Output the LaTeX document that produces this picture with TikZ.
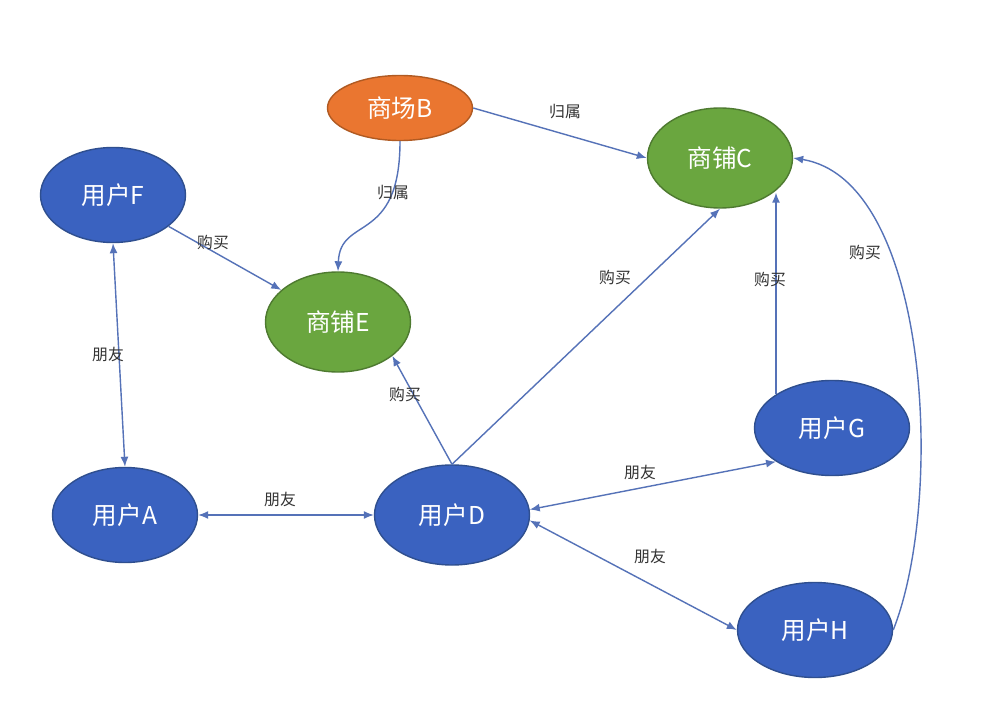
\documentclass[tikz,border=0pt]{standalone}
\usepackage{fontspec}
\setmainfont{Noto Sans CJK SC}
\usetikzlibrary{arrows.meta,shapes.geometric}

\definecolor{userblue}{HTML}{3A62C0}
\definecolor{userline}{HTML}{2F4F8F}
\definecolor{shopgreen}{HTML}{6AA63F}
\definecolor{shopline}{HTML}{4E7A30}
\definecolor{mallorange}{HTML}{EA7630}
\definecolor{mallline}{HTML}{B05A22}
\definecolor{edgeblue}{HTML}{5572B8}

\tikzset{
  ent/.style={ellipse, inner sep=0pt, line width=0.8pt, text=white,
    font=\fontsize{14}{16}\selectfont},
  user/.style={ent, draw=userline, fill=userblue,
    minimum width=2.9cm, minimum height=1.9cm},
  shop/.style={ent, draw=shopline, fill=shopgreen,
    minimum width=2.9cm, minimum height=2cm},
  mall/.style={ent, draw=mallline, fill=mallorange,
    minimum width=2.9cm, minimum height=1.3cm},
  rel/.style={draw=edgeblue, line width=0.8pt, -{Latex[length=2mm,width=1.6mm]}},
  mutual/.style={rel, {Latex[length=2mm,width=1.6mm]}-{Latex[length=2mm,width=1.6mm]}},
  lbl/.style={text=black!80, font=\fontsize{9}{10}\selectfont, inner sep=1pt}
}

\begin{document}
\begin{tikzpicture}[x=0.2mm, y=-0.2mm]
    \useasboundingbox[fill=white] (0,0) rectangle (1000,707);
    \node[mall] (B) at (400,108) {商场B};
    \node[shop] (C) at (720,158) {商铺C};
    \node[user, minimum height=1.9cm] (F) at (113,195) {用户F};
    \node[shop] (E) at (338,322) {商铺E};
    \node[user, minimum width=3.1cm] (G) at (832,428) {用户G};
    \node[user] (A) at (125,515) {用户A};
    \node[user, minimum width=3.1cm, minimum height=2cm] (D) at (452,515) {用户D};
    \node[user, minimum width=3.1cm] (H) at (815,630) {用户H};

    \draw[rel] (B.east) -- (C.west);
    \draw[rel] (B.south) .. controls (400,245) and (340,215) .. (E.north);
    \draw[rel] (F) -- (E);
    \draw[mutual] (F.south) -- (A.north);
    \draw[mutual] (A.east) -- (D.west);
    \draw[rel] (D.north) -- (E.-32);
    \draw[rel] (D.north) -- (C.south);
    \draw[rel] (G.149) -- (G.149 |- C.-33);
    \draw[mutual] (D.4) -- (G.211);
    \draw[mutual] (D.-4) -- (H.west);
    \draw[rel] (H.east) .. controls (945,500) and (930,180) .. (C.east);

    % labels
    \node[lbl] (lBC) at (565,112) {归属};
    \node[lbl] (lBE) at (393,193) {归属};
    \node[lbl] (lFE) at (213,243) {购买};
    \node[lbl] (lFA) at (108,355) {朋友};
    \node[lbl] (lAD) at (280,500) {朋友};
    \node[lbl] (lDE) at (405,395) {购买};
    \node[lbl] (lDC) at (615,278) {购买};
    \node[lbl] (lGC) at (770,280) {购买};
    \node[lbl] (lHC) at (865,253) {购买};
    \node[lbl] (lDG) at (640,473) {朋友};
    \node[lbl] (lDH) at (650,557) {朋友};
\end{tikzpicture}
\end{document}
